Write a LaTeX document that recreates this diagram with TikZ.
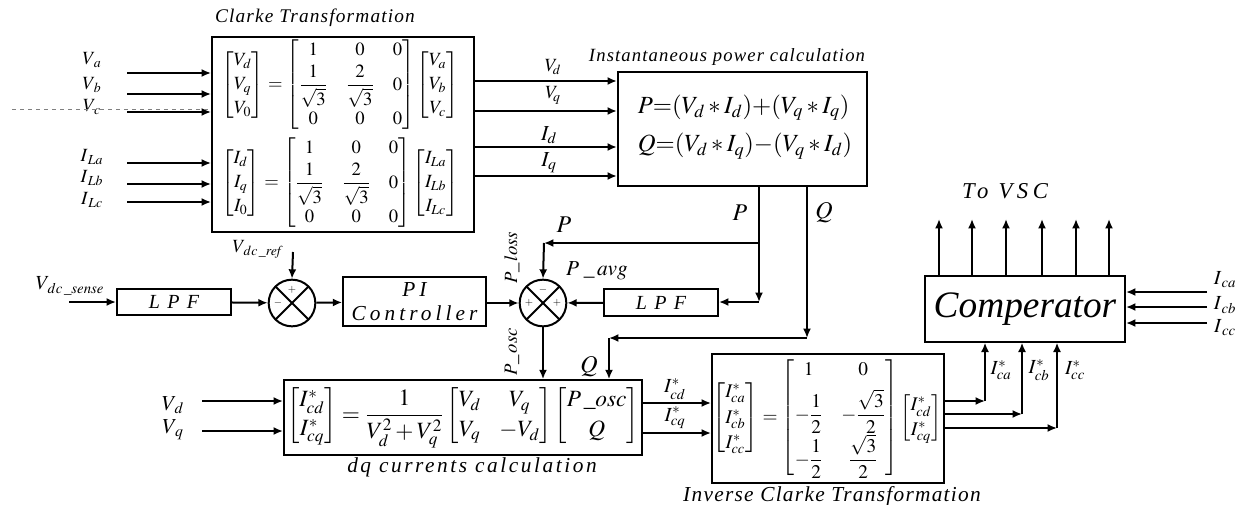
\documentclass[tikz,border=0pt]{standalone}
\usepackage{amsmath}
\usepackage{mathptmx}
\usepackage[no-math]{fontspec}
\setmainfont{Liberation Serif}
\usetikzlibrary{arrows.meta,positioning,calc}
\setlength{\arraycolsep}{7pt}
\newcommand{\captionfont}[2]{\fontsize{#1}{#1}\selectfont\itshape\addfontfeatures{LetterSpace=#2}}
\begin{document}
\begin{tikzpicture}[
      x=0.75pt,y=-0.75pt,
      block/.style={draw,line width=1.5pt,inner sep=0pt},
      arrow/.style={-{Latex[length=7pt,width=6pt]},line width=1.5pt},
      sumnode/.style={draw,circle,line width=1.5pt,minimum size=35pt,inner sep=0pt,
        path picture={\draw[line width=1.5pt] (path picture bounding box.north west) -- (path picture bounding box.south east)
          (path picture bounding box.north east) -- (path picture bounding box.south west);}},
      sign/.style={font=\footnotesize,inner sep=0pt},
      signal/.style={font=\fontsize{14}{16}\selectfont,inner sep=0pt},
      bigsignal/.style={font=\fontsize{18}{20}\selectfont,inner sep=0pt},
      formula/.style={font=\fontsize{14}{18}\selectfont,inner sep=0pt},
      caption/.style={font=\captionfont{14.5}{6},inner sep=0pt}
    ]
      \path[use as bounding box,fill=white] (0,0) rectangle (1240,504);

      \node[block,minimum width=196.5pt,minimum height=146pt] (clarke) at (343,134.5) {};
      \node[block,minimum width=187pt,minimum height=85.5pt] (power) at (742.5,129) {};
      \node[block,minimum width=85.5pt,minimum height=20pt,font=\captionfont{15}{12}] (lpfsense) at (174,302) {L P F};
      \node[sumnode] (sumdc) at (292,303) {};
      \node[block,minimum width=107pt,minimum height=37pt,align=center,font=\captionfont{16}{19}] (pi) at (414.5,301.5) {PI\\[2pt]Controller};
      \node[sumnode] (sumpow) at (543,303) {};
      \node[block,minimum width=85.5pt,minimum height=20pt,font=\captionfont{15}{12}] (lpfavg) at (661,302.5) {L P F};
      \node[block,minimum width=268.5pt,minimum height=56pt] (dq) at (463,417.5) {};
      \node[block,minimum width=174pt,minimum height=97pt] (inverse) at (828,418.5) {};
      \node[block,minimum width=150pt,minimum height=49pt,font=\fontsize{28}{32}\selectfont\itshape] (comparator) at (1025,309) {Comperator};

      \node[caption] (clarketitle) at (315,18) {Clarke Transformation};
      \node[caption,font=\captionfont{14}{6}] (powertitle) at (727,57) {Instantaneous power calculation};
      \node[caption,font=\captionfont{16}{12}] (dqtitle) at (472,467) {dq currents calculation};
      \node[caption,font=\captionfont{16}{6}] (inversetitle) at (832,496) {Inverse Clarke Transformation};
      \node[caption,font=\captionfont{17}{20}] (tovsc) at (1005,191) {To VSC};

      \node[formula] (clarkev) at (340,85) {$\left[\begin{matrix}V_d\\V_q\\V_0\end{matrix}\right]=\left[\begin{matrix}1&0&0\\[2pt]\dfrac{1}{\sqrt{3}}&\dfrac{2}{\sqrt{3}}&0\\[2pt]0&0&0\end{matrix}\right]\left[\begin{matrix}V_a\\V_b\\V_c\end{matrix}\right]$};
      \node[formula] (clarkei) at (340,183) {$\left[\begin{matrix}I_d\\I_q\\I_0\end{matrix}\right]=\left[\begin{matrix}1&0&0\\[2pt]\dfrac{1}{\sqrt{3}}&\dfrac{2}{\sqrt{3}}&0\\[2pt]0&0&0\end{matrix}\right]\left[\begin{matrix}I_{La}\\I_{Lb}\\I_{Lc}\end{matrix}\right]$};
      \node[font=\fontsize{18.5}{22}\selectfont,inner sep=0pt,align=left] (powereq) at (745,127) {$P{=}(V_d*I_d){+}(V_q*I_q)$\\[7pt]$Q{=}(V_d*I_q){-}(V_q*I_d)$};
      \node[font=\fontsize{17.5}{22}\selectfont,inner sep=0pt] (dqeq) at (463,417) {$\left[\begin{matrix}I^*_{cd}\\I^*_{cq}\end{matrix}\right]=\dfrac{1}{V_d^2+V_q^2}\left[\begin{matrix}V_d&V_q\\V_q&-V_d\end{matrix}\right]\left[\begin{matrix}P\,\_\mathit{osc}\\Q\end{matrix}\right]$};
      \node[font=\fontsize{14.5}{19}\selectfont,inner sep=0pt] (inverseeq) at (827,418) {$\left[\begin{matrix}I^*_{ca}\\I^*_{cb}\\I^*_{cc}\end{matrix}\right]=\left[\begin{matrix}1&0\\[5pt]-\dfrac{1}{2}&-\dfrac{\sqrt{3}}{2}\\[5pt]-\dfrac{1}{2}&\dfrac{\sqrt{3}}{2}\end{matrix}\right]\left[\begin{matrix}I^*_{cd}\\I^*_{cq}\end{matrix}\right]$};

      \node[signal] (lva) at (92,60) {$V_{\,a}$};
      \node[signal] (lvb) at (92,85) {$V_{\,b}$};
      \node[signal] (lvc) at (92,107) {$V_{\,c}$};
      \node[signal] (lia) at (92,157) {$I_{\,La}$};
      \node[signal] (lib) at (92,178) {$I_{\,Lb}$};
      \node[signal] (lic) at (92,200) {$I_{\,Lc}$};
      \node[signal] (lvd) at (553,67) {$V_{\!d}$};
      \node[signal] (lvq) at (553,95) {$V_{\!q}$};
      \node[signal,font=\fontsize{16}{18}\selectfont] (lid) at (549,135) {$I_{d}$};
      \node[signal,font=\fontsize{16}{18}\selectfont] (liq) at (549,163) {$I_{q}$};
      \node[bigsignal] (lp) at (740,213) {$P$};
      \node[bigsignal] (lq) at (824,213) {$Q$};
      \node[bigsignal] (lpfb) at (564,225) {$P$};
      \node[signal,font=\fontsize{16}{18}\selectfont] (lpavg) at (597,271) {$P\;\_\,\mathit{avg}$};
      \node[signal,rotate=90] (lploss) at (512,258) {$P\_\,\mathit{loss}$};
      \node[signal,rotate=90] (lposc) at (512,352) {$P\_\,\mathit{osc}$};
      \node[bigsignal] (lqfb) at (589,367) {$Q$};
      \node[signal,font=\fontsize{15}{17}\selectfont] (lsense) at (70,286) {$V_{\,dc\,\_\mathit{sense}}$};
      \node[signal] (lref) at (258,249) {$V_{\,dc\,\_\mathit{ref}}$};
      \node[signal,font=\fontsize{16}{18}\selectfont] (lvdq) at (173,405) {$V_{\,d}$};
      \node[signal,font=\fontsize{16}{18}\selectfont] (lvqq) at (173,430) {$V_{\,q}$};
      \node[signal,font=\fontsize{15}{17}\selectfont] (licd) at (675,389) {$I^*_{cd}$};
      \node[signal,font=\fontsize{15}{17}\selectfont] (licq) at (675,418) {$I^*_{cq}$};
      \node[signal,font=\fontsize{15}{17}\selectfont] (lica) at (1001,370) {$I^*_{ca}$};
      \node[signal,font=\fontsize{15}{17}\selectfont] (licb) at (1039,370) {$I^*_{cb}$};
      \node[signal,font=\fontsize{15}{17}\selectfont] (licc) at (1075,370) {$I^*_{cc}$};
      \node[signal,font=\fontsize{15}{17}\selectfont] (lra) at (1225,280) {$I_{\,ca}$};
      \node[signal,font=\fontsize{15}{17}\selectfont] (lrb) at (1225,305) {$I_{\,cb}$};
      \node[signal,font=\fontsize{15}{17}\selectfont] (lrc) at (1225,328) {$I_{\,cc}$};

      \node[sign] (plusdc) at ($(sumdc)+(0,-13)$) {$+$};
      \node[sign] (minusdc) at ($(sumdc)+(-14,0)$) {$-$};
      \node[sign] (minuspow) at ($(sumpow)+(0,-13)$) {$-$};
      \node[sign] (pluspowl) at ($(sumpow)+(-14,0)$) {$+$};
      \node[sign] (pluspowr) at ($(sumpow)+(14,0)$) {$+$};

      \coordinate (inva) at (127,73);
      \coordinate (invb) at (127,94);
      \coordinate (invc) at (127,112);
      \coordinate (inia) at (127,163);
      \coordinate (inib) at (127,184);
      \coordinate (inic) at (127,202);
      \coordinate (dashstart) at (12,109);
      \draw[arrow] (inva) -- (inva -| clarke.west);
      \draw[arrow] (invb) -- (invb -| clarke.west);
      \draw[arrow] (invc) -- (invc -| clarke.west);
      \draw[arrow] (inia) -- (inia -| clarke.west);
      \draw[arrow] (inib) -- (inib -| clarke.west);
      \draw[arrow] (inic) -- (inic -| clarke.west);
      \draw[dashed,gray,thin] (dashstart) -- (dashstart -| clarke.west);

      \coordinate (rowvd) at (474,81);
      \coordinate (rowvq) at (474,111);
      \coordinate (rowid) at (474,147);
      \coordinate (rowiq) at (474,176);
      \draw[arrow] (rowvd) -- (rowvd -| power.west);
      \draw[arrow] (rowvq) -- (rowvq -| power.west);
      \draw[arrow] (rowid) -- (rowid -| power.west);
      \draw[arrow] (rowiq) -- (rowiq -| power.west);

      \coordinate (sense) at (69,302);
      \coordinate (dcref) at (293,252);
      \draw[arrow] (sense) -- (lpfsense.west);
      \draw[arrow] (lpfsense) -- (sumdc);
      \draw[arrow] (dcref) -- (sumdc.north);
      \draw[arrow] (sumdc) -- (pi);
      \draw[arrow] (pi.east |- sumpow) -- (sumpow.west);
      \draw[arrow] (lpfavg) -- (sumpow);

      \coordinate (ptap) at (759,243);
      \coordinate (pdown) at (759,302);
      \coordinate (pcorner) at (544,243);
      \coordinate (qdown) at (807,338);
      \coordinate (qcorner) at (609,338);
      \draw[arrow] (power.south -| ptap) -- (pdown);
      \draw[arrow] (pdown) -- (pdown -| lpfavg.east);
      \draw[arrow] (ptap) -- (pcorner);
      \draw[arrow] (pcorner) -- (sumpow.north);
      \draw[arrow] (power.south -| qdown) -- (qdown);
      \draw[arrow] (qdown) -- (qcorner);
      \draw[arrow] (qcorner) -- (qcorner |- dq.north);
      \draw[arrow] (sumpow.south) -- (sumpow |- dq.north);

      \coordinate (invd) at (202,401);
      \coordinate (invq) at (202,431);
      \draw[arrow] (invd) -- (invd -| dq.west);
      \draw[arrow] (invq) -- (invq -| dq.west);

      \coordinate (rowcd) at (642,403);
      \coordinate (rowcq) at (642,433);
      \draw[arrow] (rowcd) -- (rowcd -| inverse.west);
      \draw[arrow] (rowcq) -- (rowcq -| inverse.west);

      \coordinate (cornera) at (985,401);
      \coordinate (cornerb) at (1022,414);
      \coordinate (cornerc) at (1057,428);
      \draw[arrow] (inverse.east |- cornera) -- (cornera);
      \draw[arrow] (inverse.east |- cornerb) -- (cornerb);
      \draw[arrow] (inverse.east |- cornerc) -- (cornerc);
      \draw[arrow] (cornera) -- (cornera |- comparator.south);
      \draw[arrow] (cornerb) -- (cornerb |- comparator.south);
      \draw[arrow] (cornerc) -- (cornerc |- comparator.south);

      \coordinate (upa) at (939,219);
      \coordinate (upb) at (972,219);
      \coordinate (upc) at (1006,219);
      \coordinate (upd) at (1042,219);
      \coordinate (upe) at (1076,219);
      \coordinate (upf) at (1109,219);
      \draw[arrow] (comparator.north -| upa) -- (upa);
      \draw[arrow] (comparator.north -| upb) -- (upb);
      \draw[arrow] (comparator.north -| upc) -- (upc);
      \draw[arrow] (comparator.north -| upd) -- (upd);
      \draw[arrow] (comparator.north -| upe) -- (upe);
      \draw[arrow] (comparator.north -| upf) -- (upf);

      \coordinate (inca) at (1207,292);
      \coordinate (incb) at (1207,307);
      \coordinate (incc) at (1207,323);
      \draw[arrow] (inca) -- (inca -| comparator.east);
      \draw[arrow] (incb) -- (incb -| comparator.east);
      \draw[arrow] (incc) -- (incc -| comparator.east);
    \end{tikzpicture}
\end{document}
